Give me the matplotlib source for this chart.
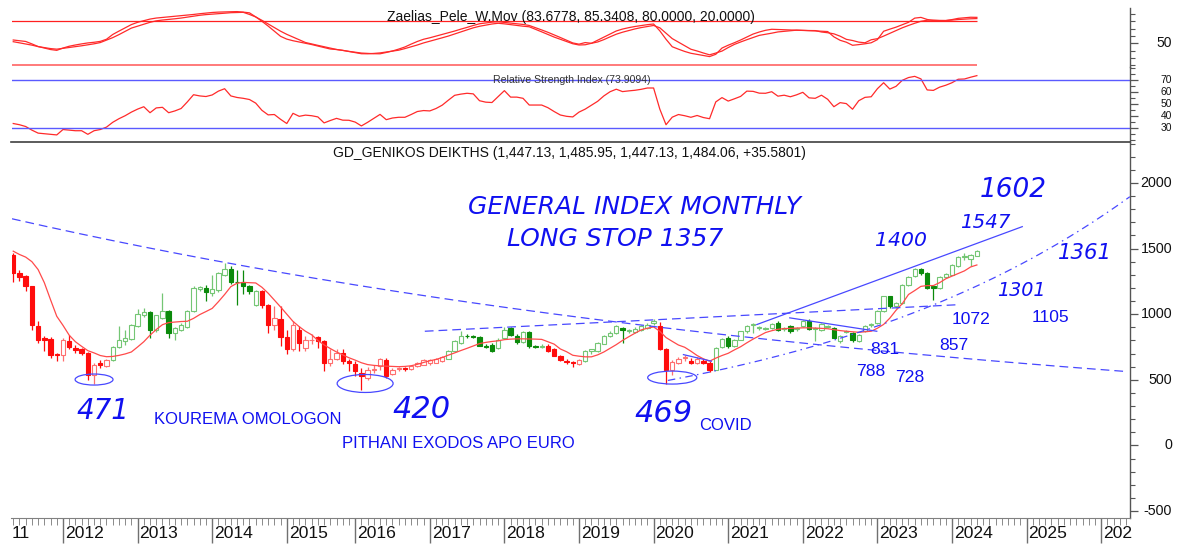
import numpy as np
import matplotlib

matplotlib.use("Agg")
import matplotlib.pyplot as plt
from matplotlib import transforms
from matplotlib.patches import Ellipse

plt.rcParams["font.family"] = ["Liberation Sans", "DejaVu Sans"]

# ---- monthly bars, May 2011 .. May 2024 (July 2015 has no bar: market closed) ----
opens = [1453, 1314, 1290, 1212, 913, 815, 814, 695,
         692, 799, 740, 738, 705, 540, 629, 604, 654, 751,
         799, 812, 913, 992, 1017, 883, 972, 1022, 857, 883,
         905, 1022, 1195, 1200, 1165, 1182, 1301, 1345, 1248, 1243,
         1218, 1070, 1174, 1073, 921, 966, 826, 735, 883, 740,
         800, 824, 794, 629, 660, 705, 642, 624, 553, 515,
         578, 604, 654, 548, 583, 585, 583, 604, 616, 625,
         630, 642, 662, 723, 781, 832, 828, 824, 761, 769,
         743, 820, 896, 837, 786, 862, 756, 752, 761, 731,
         685, 640, 634, 624, 642, 718, 718, 776, 837, 857,
         896, 872, 862, 883, 896, 933, 908, 731, 573, 629,
         665, 647, 629, 642, 629, 578, 751, 820, 761, 807,
         870, 918, 894, 890, 896, 933, 886, 908, 888, 908,
         946, 886, 883, 905, 896, 794, 868, 857, 794, 870,
         915, 933, 1022, 1136, 1060, 1086, 1225, 1289, 1345, 1314,
         1218, 1200, 1284, 1301, 1370, 1433, 1421, 1447.13]
highs = [1470, 1340, 1295, 1215, 946, 832, 827, 705,
         820, 845, 769, 745, 712, 629, 650, 660, 760, 908,
         883, 925, 1040, 1050, 1025, 995, 1162, 1030, 905, 930,
         1030, 1215, 1215, 1225, 1300, 1320, 1390, 1365, 1340, 1335,
         1225, 1187, 1187, 1080, 1060, 1060, 880, 946, 908, 835,
         850, 830, 800, 731, 736, 731, 660, 640, 591, 600,
         616, 667, 667, 590, 595, 595, 610, 635, 655, 660,
         665, 680, 730, 800, 870, 850, 840, 835, 770, 780,
         815, 900, 905, 850, 870, 875, 765, 770, 770, 740,
         690, 655, 645, 655, 725, 735, 790, 845, 870, 915,
         905, 885, 900, 915, 930, 964, 938, 740, 654, 675,
         692, 665, 670, 655, 640, 750, 820, 830, 810, 875,
         920, 934, 910, 905, 935, 945, 900, 915, 900, 955,
         960, 900, 935, 915, 905, 840, 880, 865, 850, 915,
         935, 1030, 1140, 1140, 1095, 1230, 1290, 1350, 1350, 1320,
         1225, 1290, 1315, 1385, 1440, 1465, 1460, 1485.95]
lows = [1243, 1250, 1174, 883, 781, 718, 667, 640,
        642, 731, 708, 690, 500, 471, 590, 600, 640, 740,
        769, 805, 905, 975, 820, 862, 965, 815, 800, 870,
        895, 1015, 1180, 1100, 1136, 1170, 1290, 1230, 1073, 1150,
        1150, 1060, 1048, 857, 880, 760, 700, 720, 718, 720,
        770, 740, 565, 604, 650, 622, 565, 527, 420, 500,
        553, 578, 515, 540, 570, 570, 575, 595, 610, 615,
        625, 635, 655, 715, 775, 820, 815, 755, 740, 710,
        735, 815, 830, 770, 780, 745, 740, 740, 710, 680,
        640, 620, 600, 615, 635, 700, 710, 770, 825, 850,
        781, 855, 855, 875, 890, 921, 725, 469, 540, 620,
        642, 620, 620, 620, 560, 575, 745, 740, 750, 800,
        860, 857, 880, 880, 890, 875, 870, 860, 875, 900,
        880, 794, 875, 895, 815, 781, 860, 790, 785, 865,
        905, 925, 1015, 1050, 1050, 1080, 1215, 1280, 1300, 1195,
        1111, 1190, 1275, 1295, 1360, 1410, 1365, 1447.13]
closes = [1314, 1284, 1212, 921, 807, 800, 692, 690,
          807, 748, 727, 705, 540, 616, 611, 654, 751, 807,
          820, 921, 1005, 1020, 883, 990, 1022, 857, 896, 920,
          1022, 1200, 1205, 1170, 1190, 1314, 1345, 1245, 1242, 1212,
          1174, 1175, 1073, 921, 972, 826, 735, 920, 781, 800,
          805, 797, 629, 660, 705, 642, 631, 565, 527, 578,
          580, 660, 527, 578, 585, 583, 604, 629, 649, 652,
          655, 675, 723, 794, 832, 830, 826, 761, 750, 718,
          807, 883, 845, 786, 862, 756, 752, 755, 718, 685,
          649, 634, 625, 649, 718, 731, 781, 837, 857, 908,
          883, 876, 888, 908, 921, 946, 731, 573, 634, 662,
          669, 629, 662, 629, 573, 743, 812, 756, 802, 870,
          913, 921, 898, 898, 926, 883, 890, 870, 893, 946,
          888, 892, 928, 912, 820, 832, 872, 802, 845, 908,
          929, 1022, 1136, 1060, 1086, 1225, 1284, 1345, 1314, 1200,
          1200, 1284, 1309, 1378, 1433, 1440, 1454, 1484.06]
trend = "r" * 16 + "g" * 24 + "r" * 30 + "g" * 16 + "r" * 6 + "g" * 12 + "r" * 9 + "g" * 43

moving_avg = [1480, 1455, 1435, 1400, 1340, 1240, 1110, 984,
              915, 840, 790, 755, 722, 705, 685, 676, 678, 686,
              697, 712, 750, 790, 840, 883, 920, 936, 940, 944,
              946, 968, 997, 1020, 1044, 1095, 1150, 1210, 1236, 1242,
              1240, 1238, 1205, 1160, 1108, 1055, 1000, 945, 905, 870,
              843, 800, 766, 738, 712, 690, 668, 650, 630, 616,
              610, 606, 604, 602, 600, 602, 607, 618, 632, 645,
              655, 670, 688, 705, 723, 740, 758, 776, 785, 792,
              797, 806, 810, 812, 812, 811, 810, 808, 790, 772,
              735, 714, 687, 680, 675, 675, 690, 712, 740, 768,
              800, 828, 855, 880, 893, 903, 870, 822, 793, 765,
              748, 718, 685, 660, 642, 665, 685, 702, 728, 752,
              782, 810, 835, 860, 874, 885, 890, 892, 894, 896,
              896, 894, 892, 889, 882, 875, 870, 866, 862, 866,
              870, 893, 922, 970, 1030, 1080, 1150, 1180, 1212, 1218,
              1218, 1240, 1270, 1290, 1310, 1330, 1360, 1375]

rsi = [34, 33, 31.5, 28.5, 26, 25.5, 25, 24.5,
       29, 28.5, 28, 28, 25, 28, 29, 31, 35, 38,
       40.5, 43.5, 46, 48, 43, 47, 47.5, 43, 44.5, 46.5,
       52, 58, 57, 56.5, 57.8, 61, 63, 57, 55.7, 55,
       54, 51, 45, 41.2, 41.5, 37.5, 34, 42.5, 40, 41,
       40.5, 39.5, 34.5, 36.5, 38.3, 36.8, 36.7, 35.2, 32, 35,
       38.3, 41.6, 37.2, 38.6, 39.2, 39.2, 41.5, 44, 44.8, 44.5,
       46.5, 49.3, 53.5, 57.5, 58.5, 59.2, 58.7, 53, 51.8, 51.5,
       56.5, 61.4, 56, 56, 55, 49.4, 49.4, 49.4, 47.2, 44,
       41.1, 40, 39.5, 43.5, 46, 49.2, 52.5, 57, 60.5, 62.6,
       60.6, 61.2, 61.7, 62.5, 63.6, 63.6, 46, 33, 39.3, 41.5,
       40.5, 39.2, 40.7, 39, 38, 52, 55.6, 52.7, 54.6, 56.6,
       61, 60.8, 59.3, 59.2, 60.5, 56.8, 57.6, 56.3, 57.9, 60,
       55.4, 55, 57.6, 54.2, 48, 51.4, 50.6, 45.9, 53, 55.8,
       56.3, 63, 68, 62.7, 65, 70, 72.3, 73.3, 71.2, 62,
       61.6, 64.3, 65.9, 68, 70.9, 71.1, 72.6, 73.9]

wmov_fast = [54.5, 53.5, 52.5, 49.2, 45.6, 43.5, 41.5, 40.4,
             43.5, 46, 47.7, 49.2, 50.5, 51.4, 52.6, 55.5, 62, 66.6,
             71, 75.5, 78.6, 80.8, 83, 84.4, 85.2, 86, 86.8, 87.6,
             88.5, 89.3, 90.3, 91.1, 92, 92.5, 92.8, 93, 93.2, 92.5,
             91.5, 86, 80, 73.5, 66.5, 59.5, 55.7, 53.5, 51.8, 50,
             48.3, 46.2, 44.2, 42.2, 41.5, 40.4, 39, 37.8, 36.7, 36.2,
             35.8, 35.7, 37.5, 39.5, 42.1, 45, 48.9, 52.5, 55.5, 57.5,
             59.8, 62, 64.4, 66.7, 69.3, 71.7, 74.3, 76.6, 77.7, 78.8,
             79.4, 78.4, 77.5, 76.6, 75.7, 74.3, 71.3, 68.2, 65, 61.5,
             57.9, 54.2, 50.5, 48.8, 51, 50, 54.2, 58.4, 62.6, 66.8,
             69.4, 71.3, 72.9, 74.2, 75.4, 76.3, 67, 55.5, 45.3, 42,
             38.9, 36.4, 34.9, 33.4, 31.9, 35, 43.5, 47.4, 50.8, 54.5,
             58.5, 62.6, 65.4, 67.7, 69.1, 68.8, 68.5, 68.2, 67.9, 67.6,
             67.3, 66.9, 66.4, 66, 58.8, 54.1, 51.5, 47.3, 48.2, 49.3,
             50.7, 55, 66.4, 69.3, 72, 75.3, 78.6, 84.3, 85.3, 82.5,
             81, 81, 81, 82.3, 84, 84.7, 85.5, 85.34]
wmov_slow = [52.2, 50.6, 49, 47.5, 45.5, 44.1, 42.8, 42,
             43.2, 44.3, 45.4, 46.6, 48, 49.3, 51, 54.4, 57.7, 61.8,
             66.2, 70.7, 73.3, 75.9, 78.6, 80.6, 81.7, 82.5, 83.4, 84.4,
             85.7, 86.9, 88.2, 89.1, 89.7, 90.4, 91, 91.7, 91.9, 92.2,
             89.3, 85.9, 81.3, 76.4, 71.4, 66.5, 62.2, 58.5, 54.8, 51.1,
             49.1, 47.2, 45.3, 43.4, 41.6, 40.3, 38.8, 37.2, 35.8, 35.7,
             36.2, 36.9, 38.1, 39.3, 40.6, 42.8, 45.2, 47.7, 50.5, 52.8,
             55.2, 57.5, 59.9, 62.7, 65.5, 68.3, 71.1, 73.2, 74.8, 76.3,
             77.3, 76.5, 75.4, 74.4, 73.3, 72.5, 69.1, 65.6, 62.1, 58.5,
             55.5, 52.4, 49.4, 47.7, 48, 50, 51.8, 55, 58.8, 62.4,
             65.1, 67.4, 69.6, 71.4, 72.9, 74.3, 71.1, 63.7, 56.4, 51.6,
             46.7, 41.9, 39.5, 36.8, 34.3, 36.7, 39.4, 44.2, 48.5, 51.8,
             54.9, 57.8, 60.8, 62.3, 63.8, 65.5, 66.3, 67.2, 67.9, 67.6,
             67.4, 67.3, 65.4, 64.4, 62.9, 59.7, 55.4, 53.8, 51.6, 50.7,
             54.8, 56.3, 59.8, 63.6, 67.4, 71.1, 74.3, 77.3, 80, 81.4,
             81.6, 81.1, 81, 81.6, 82.4, 82.9, 83.4, 83.68]

# year ticks, counted in bars from Jan 2012
year_labels = ["2012", "2013", "2014", "2015", "2016", "2017", "2018",
               "2019", "2020", "2021", "2022", "2023", "2024", "2025", "202"]
year_bar = [0, 12, 24, 36, 47, 59, 71, 83, 95, 107, 119, 131, 143, 155, 167]

# hand drawn trend lines: (bar, value) end points
downtrend = ([-8.2, 171.1], [1727, 563])          # drawn on log scale
support = ([97.3, 171.6], [495, 1895])            # drawn on log scale
range_top = ([58.2, 144.3], [870, 1073])
channel_top = ([111.6, 154.3], [921, 1667])
flag_top = ([116.9, 130.9], [972, 870])
covid_top = ([99.8, 104.3], [692, 642])
lows_marked = [(5.0, 502, 6.1, 84), (48.6, 472, 9.0, 137), (98.0, 517, 7.9, 99)]

W, H = 1180, 549
RED, RED_LT = "#ff0c0c", "#ff6f6f"
GREEN, GREEN_LT = "#0b8a0b", "#74c674"
BLUE_LINE = "#4848ff"
BLUE_TXT = "#1010f0"
AX_COL = "#555555"

fig = plt.figure(figsize=(W / 100, H / 100), dpi=100)
left, width = 11.5 / W, (1130 - 11.5) / W


def frame(top_px, bot_px):
    return [left, 1 - bot_px / H, width, (bot_px - top_px) / H]


ax_w = fig.add_axes(frame(8, 67))
ax_r = fig.add_axes(frame(67, 142))
ax = fig.add_axes(frame(142, 518))

x = np.arange(-8, 148)
o, hi, lo, c = map(np.array, (opens, highs, lows, closes))
XL = (-8.28, 171.63)

# ---- candles ----
is_g = np.array([t == "g" for t in trend])
hollow = c > o
strong = np.where(is_g, GREEN, RED)
light = np.where(is_g, GREEN_LT, RED_LT)
wick_col = np.where(hollow, light, strong)
face = np.where(hollow, "white", strong)
ax.vlines(x, lo, hi, colors=wick_col, lw=0.9, zorder=2)
body = np.maximum(np.abs(c - o), 5)
ax.bar(x, body, bottom=np.minimum(o, c), width=0.7, color=face,
       edgecolor=wick_col, linewidth=0.8, zorder=3)
ax.plot(x, moving_avg, color="#ff4a4a", lw=0.9, zorder=3.5)


def tline(pts, style, log=False):
    (x0, x1), (v0, v1) = pts
    xs = np.linspace(x0, x1, 200)
    t = (xs - x0) / (x1 - x0)
    vs = v0 * (v1 / v0) ** t if log else v0 + (v1 - v0) * t
    ln, = ax.plot(xs, vs, color=BLUE_LINE, lw=0.9, zorder=4)
    if style == "dash":
        ln.set_dashes((7, 4))
    elif style == "dashdot":
        ln.set_dashes((6, 3.5, 1.2, 3.5))


tline(downtrend, "dash", log=True)
tline(support, "dashdot", log=True)
tline(range_top, "dash")
tline(channel_top, "solid")
tline(flag_top, "solid")
tline(covid_top, "solid")
for ex, ey, ew, eh in lows_marked:
    ax.add_patch(Ellipse((ex, ey), ew, eh, fill=False, edgecolor=BLUE_LINE, lw=0.9, zorder=4))

ax.set_xlim(*XL)
ax.set_ylim(-553, 2312)

# ---- indicator panels ----
ax_w.plot(x, wmov_fast, color="#ff2a2a", lw=0.9)
ax_w.plot(x, wmov_slow, color="#ff2a2a", lw=0.9)
ax_w.hlines(80, XL[0], 147, color="#ff2020", lw=0.9)
ax_w.hlines(20, XL[0], 147, color="#ff7070", lw=1.3)
ax_w.set_xlim(*XL)
ax_w.set_ylim(17.7, 98.1)

ax_r.plot(x, rsi, color="#ff2a2a", lw=0.9)
ax_r.hlines([70, 30], XL[0], XL[1], color="#5a5aff", lw=1.0)
ax_r.set_xlim(*XL)
ax_r.set_ylim(18.6, 81.1)

# ---- axes cosmetics ----
for a in (ax_w, ax_r, ax):
    for s in ("top", "left", "bottom"):
        a.spines[s].set_visible(False)
    a.spines["right"].set_color(AX_COL)
    a.spines["right"].set_linewidth(1.0)
    a.yaxis.tick_right()
    a.tick_params(axis="y", which="both", direction="out", colors=AX_COL, labelright=False)
    a.tick_params(axis="y", which="major", length=6, width=0.9)
    a.tick_params(axis="y", which="minor", length=3.5, width=0.8)
    a.set_xticks([])
    a.patch.set_visible(False)

ax_r.spines["bottom"].set_visible(True)
ax_r.spines["bottom"].set_color("#404040")
ax_r.spines["bottom"].set_linewidth(1.2)

ax.spines["bottom"].set_visible(True)
ax.spines["bottom"].set_color("#808080")
ax.set_xticks(year_bar)
ax.set_xticks(np.arange(-8, 172), minor=True)
ax.tick_params(axis="x", which="major", length=18, width=1.0, colors="#707070", labelbottom=False)
ax.tick_params(axis="x", which="minor", length=5, width=0.7, colors="#8a8a8a")

main_ticks = [2000, 1500, 1000, 500, 0, -500]
ax.set_yticks(main_ticks)
ax.set_yticks(np.arange(-500, 2301, 100), minor=True)
ax_w.set_yticks([50])
ax_w.set_yticks(np.arange(20, 100, 10), minor=True)
rsi_ticks = [70, 60, 50, 40, 30]
ax_r.set_yticks(rsi_ticks)
ax_r.set_yticks(np.arange(20, 81, 5), minor=True)

lab_x = 1172 / W
for a, ticks, fs in ((ax, main_ticks, 10.3), (ax_w, [50], 10), (ax_r, rsi_ticks, 7.4)):
    tr = transforms.blended_transform_factory(fig.transFigure, a.transData)
    for v in ticks:
        a.text(lab_x, v, str(v), transform=tr, ha="right", va="center", fontsize=fs, color="#111111")

trx = transforms.blended_transform_factory(ax.transData, fig.transFigure)
ylab = 1 - 534 / H
for b, lbl in zip(year_bar, year_labels):
    ax.text(b + 0.3, ylab, lbl, transform=trx, ha="left", va="center", fontsize=12.6, color="#111111")
ax.text(-8.2, ylab, "11", transform=trx, ha="left", va="center", fontsize=12.6, color="#111111")


def at(px, py):
    return px / W, 1 - py / H


# ---- titles ----
fig.text(*at(571, 17), "Zaelias_Pele_W.Mov (83.6778, 85.3408, 80.0000, 20.0000)",
         ha="center", va="center", fontsize=10, color="#111111")
fig.text(*at(571.5, 80), "Relative Strength Index (73.9094)",
         ha="center", va="center", fontsize=7.6, color="#333333")
fig.text(*at(569.5, 153), "GD_GENIKOS DEIKTHS (1,447.13, 1,485.95, 1,447.13, 1,484.06, +35.5801)",
         ha="center", va="center", fontsize=10, color="#111111")

# ---- hand written notes ----
hand = dict(family="DejaVu Sans", style="oblique", weight="light", color=BLUE_TXT, ha="center", va="center")
for txt, px_, py_, fs in [("GENERAL INDEX MONTHLY", 634, 207, 18), ("LONG STOP 1357", 615, 239, 18),
                          ("1602", 1013, 190, 19), ("1547", 985, 223, 14.2), ("1400", 901, 241, 14.7),
                          ("1361", 1085, 253, 15.3), ("1301", 1021.5, 290, 13.8),
                          ("471", 103, 411, 20), ("420", 421.5, 410, 22), ("469", 663.5, 413, 22)]:
    fig.text(*at(px_, py_), txt, fontsize=fs, **hand)

plain = dict(color=BLUE_TXT, ha="center", va="center")
for txt, px_, py_, fs in [("1072", 971.5, 320, 12.6), ("1105", 1050, 317, 12.6), ("857", 953.5, 345, 12.6),
                          ("831", 885, 350, 12.6), ("788", 871, 371, 12.6), ("728", 910, 377, 12.6),
                          ("KOUREMA OMOLOGON", 247.5, 420, 12), ("PITHANI EXODOS APO EURO", 458, 443, 12),
                          ("COVID", 725.5, 425, 12)]:
    fig.text(*at(px_, py_), txt, fontsize=fs, **plain)

fig.savefig("out.png", dpi=100)
